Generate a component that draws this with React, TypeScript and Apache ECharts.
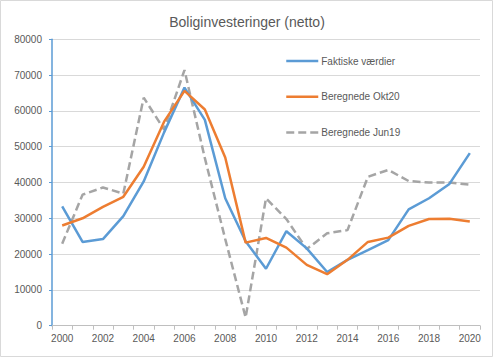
import React, { useEffect, useRef } from "react";
import * as echarts from "echarts";

const years = ["2000","2001","2002","2003","2004","2005","2006","2007","2008","2009","2010","2011","2012","2013","2014","2015","2016","2017","2018","2019","2020"];
const faktiske = [33300,23400,24200,30600,40300,54000,66500,57500,35600,23600,15900,26400,21600,15000,18400,21100,23900,32500,35600,39600,48200];
const okt20 = [28000,30000,33200,36000,44400,57000,65600,60400,47000,23200,24500,21800,17000,14400,18400,23400,24600,27900,29800,29900,29100];
const jun19 = [22900,36600,38600,36900,63700,54800,71400,46800,24200,2300,35600,29800,21400,25800,26700,41600,43500,40400,40000,40000,39400];
const yTicks = [0,10000,20000,30000,40000,50000,60000,70000,80000];

const txt = "#595959";
const font = "Liberation Sans";

export default function App() {
  const ref = useRef<HTMLDivElement>(null);
  useEffect(() => {
    document.body.style.margin = "0";
    const chart = echarts.init(ref.current!, null, { renderer: "svg" });
    chart.setOption({
      animation: false,
      backgroundColor: "#ffffff",
      textStyle: { fontFamily: font, color: txt },
      title: {
        text: "Boliginvesteringer (netto)",
        left: "center",
        top: 10,
        textStyle: { fontFamily: font, fontSize: 14, fontWeight: "normal", color: txt },
      },
      graphic: [
        { type: "rect", shape: { x: 0.5, y: 0.5, width: 492, height: 356 }, style: { fill: "none", stroke: "#d9d9d9", lineWidth: 1 }, silent: true },
      ],
      legend: {
        orient: "vertical",
        left: 285,
        top: 56,
        padding: 0,
        itemWidth: 32,
        itemHeight: 12,
        itemGap: 25.7,
        itemStyle: { opacity: 0 },
        lineStyle: { width: 2.5 },
        textStyle: { fontFamily: font, fontSize: 10, color: txt, padding: [0, 0, 0, -2] },
        data: ["Faktiske værdier", "Beregnede Okt20", "Beregnede Jun19"],
      },
      grid: { left: 52, right: 14, top: 39.3, bottom: 32.3, containLabel: false },
      xAxis: {
        type: "category",
        data: years,
        boundaryGap: true,
        axisLine: { lineStyle: { color: "#bfbfbf", width: 1 } },
        axisTick: { show: true, length: 4, interval: 0, lineStyle: { color: "#bfbfbf" } },
        axisLabel: { interval: 1, margin: 8, fontSize: 10, color: txt, fontFamily: font },
        splitLine: { show: false },
      },
      yAxis: {
        type: "value",
        min: yTicks[0],
        max: yTicks[yTicks.length - 1],
        interval: 10000,
        axisLine: { show: true, lineStyle: { color: "#5b9bd5", width: 1.5 } },
        axisTick: { show: true, length: 3, lineStyle: { color: "#5b9bd5" } },
        axisLabel: { margin: 10, fontSize: 10, color: txt, fontFamily: font, formatter: (v: number) => String(v) },
        splitLine: { lineStyle: { color: "#d9d9d9", width: 1 } },
      },
      series: [
        { name: "Faktiske værdier", type: "line", data: faktiske, symbol: "none", lineStyle: { color: "#5b9bd5", width: 2.5 }, itemStyle: { color: "#5b9bd5" }, z: 3 },
        { name: "Beregnede Okt20", type: "line", data: okt20, symbol: "none", lineStyle: { color: "#ed7d31", width: 2.5 }, itemStyle: { color: "#ed7d31" }, z: 4 },
        { name: "Beregnede Jun19", type: "line", data: jun19, symbol: "none", lineStyle: { color: "#a5a5a5", width: 2.5, type: [8, 4] }, itemStyle: { color: "#a5a5a5" }, z: 2 },
      ],
    });
    return () => chart.dispose();
  }, []);
  return <div ref={ref} style={{ width: 494, height: 358 }} />;
}
